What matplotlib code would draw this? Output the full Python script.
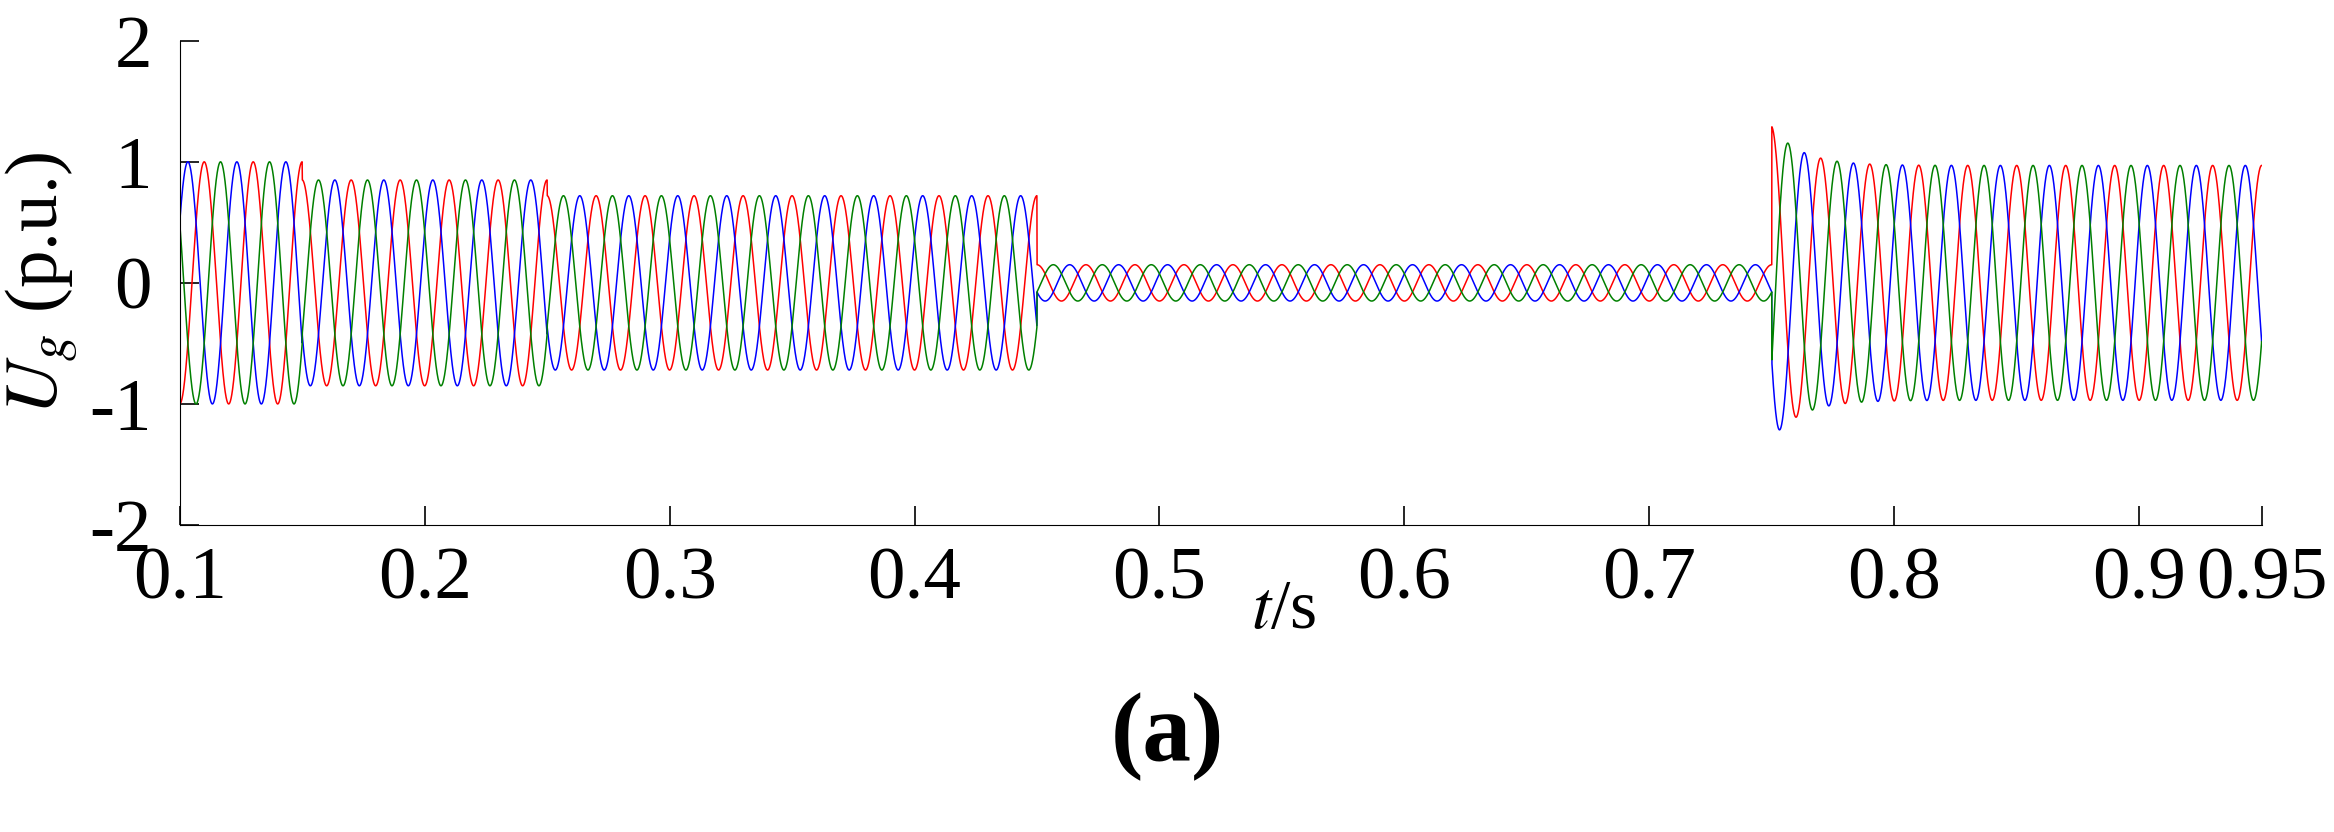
import numpy as np
import matplotlib
matplotlib.use("Agg")
import matplotlib.pyplot as plt

# segment boundaries (s) and per-segment amplitude (p.u.)
seg_edges = [0.10, 0.15, 0.25, 0.45, 0.75, 0.95]
seg_amps = [1.00, 0.85, 0.72, 0.15, 0.97]
# transient overshoot after voltage recovery
recovery_time = 0.75
overshoot_amp = 0.32
overshoot_tau = 0.012
freq = 50.0
phase_shift_deg = [180, -60, 60]
phase_colors = ["#ff0000", "#0000ff", "#008000"]

xticks = [0.1, 0.2, 0.3, 0.4, 0.5, 0.6, 0.7, 0.8, 0.9, 0.95]
xticklabels = ["0.1", "0.2", "0.3", "0.4", "0.5", "0.6", "0.7", "0.8", "0.9", "0.95"]
yticks = [-2, -1, 0, 1, 2]

t = np.linspace(seg_edges[0], seg_edges[-1], 20000)
amp = np.zeros_like(t)
for i, a in enumerate(seg_amps):
    m = (t >= seg_edges[i]) & (t <= seg_edges[i + 1])
    amp[m] = a
post = t >= recovery_time
amp[post] += overshoot_amp * np.exp(-(t[post] - recovery_time) / overshoot_tau)

plt.rcParams['font.family'] = ['Liberation Serif', 'DejaVu Serif']
plt.rcParams['mathtext.fontset'] = 'stix'
fig = plt.figure(figsize=(23.34, 8.32), dpi=100)
ax = fig.add_axes([0.077, 0.369, 0.892, 0.582])
w = 2 * np.pi * freq
for sh, c in zip(phase_shift_deg, phase_colors):
    ax.plot(t, amp * np.cos(w * (t - 0.1) + np.deg2rad(sh)), color=c, lw=1.1)

ax.set_xlim(0.1, 0.95)
ax.set_ylim(-2, 2)
ax.set_xticks(xticks)
ax.set_xticklabels(xticklabels)
ax.set_yticks(yticks)
ax.set_yticklabels(["-2", "-1", "0", "1", "2"])
for s in ["top", "right"]:
    ax.spines[s].set_visible(False)
ax.tick_params(direction='in', length=14, width=1.2, labelsize=54)
ax.tick_params(axis='x', pad=16)
ax.tick_params(axis='y', pad=20)
fig.text(0.55, 0.265, r"$t$/s", ha='center', va='center', fontsize=50)
ax.set_ylabel(r"$U_g$ (p.u.)", fontsize=54, labelpad=6)
fig.text(0.5, 0.115, "(a)", ha='center', va='center', fontsize=70, fontweight='bold')
fig.savefig("out.png", dpi=100)
